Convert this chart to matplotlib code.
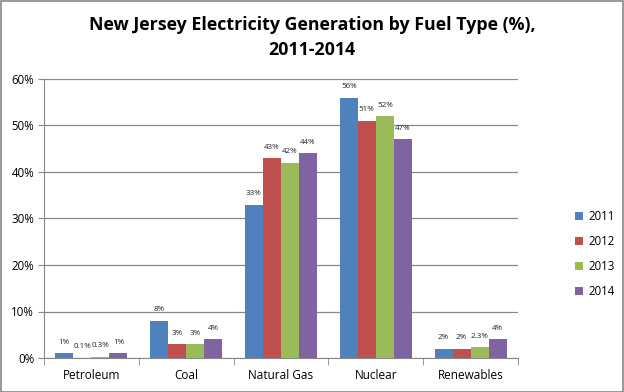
import numpy as np
import matplotlib.pyplot as plt
from matplotlib.patches import Rectangle

# data
fuels = ['Petroleum', 'Coal', 'Natural Gas', 'Nuclear', 'Renewables']
years = ['2011', '2012', '2013', '2014']
v2011 = [1, 8, 33, 56, 2]
v2012 = [0.1, 3, 43, 51, 2]
v2013 = [0.3, 3, 42, 52, 2.3]
v2014 = [1, 4, 44, 47, 4]
labels2011 = ['1%', '8%', '33%', '56%', '2%']
labels2012 = ['0.1%', '3%', '43%', '51%', '2%']
labels2013 = ['0.3%', '3%', '42%', '52%', '2.3%']
labels2014 = ['1%', '4%', '44%', '47%', '4%']

series = [v2011, v2012, v2013, v2014]
series_labels = [labels2011, labels2012, labels2013, labels2014]
colors = ['#4F81BD', '#C0504D', '#9BBB59', '#8064A2']

plt.rcParams['font.family'] = ['Open Sans', 'DejaVu Sans']

fig = plt.figure(figsize=(6.24, 3.92), dpi=100)
ax = fig.add_axes([44 / 624, 34 / 392, 474 / 624, 279 / 392])

x = np.arange(len(fuels))
w = 0.19
for i, (vals, labs) in enumerate(zip(series, series_labels)):
    pos = x + (i - 1.5) * w
    bars = ax.bar(pos, vals, width=w, color=colors[i], label=years[i], zorder=3)
    for b, lab in zip(bars, labs):
        ax.text(b.get_x() + b.get_width() / 2, b.get_height() + 1.6, lab,
                ha='center', va='bottom', fontsize=5.8, color='#222222')

ax.set_xlim(-0.5, len(fuels) - 0.5)
ax.set_ylim(0, 60)
ax.set_yticks(np.arange(0, 61, 10))
ax.set_yticklabels([f'{t}%' for t in range(0, 61, 10)], fontsize=8.3)
ax.yaxis.grid(True, color='#888888', linewidth=0.9, zorder=0)

ax.set_xticks(x)
ax.set_xticklabels(fuels, fontsize=8.5)
ax.tick_params(axis='x', length=0, pad=8)
ax.set_xticks(np.arange(-0.5, len(fuels), 1), minor=True)
ax.tick_params(axis='x', which='minor', length=5, color='#888888')
ax.tick_params(axis='y', length=4, color='#888888', pad=3)

for s in ['top', 'right']:
    ax.spines[s].set_visible(False)
for s in ['left', 'bottom']:
    ax.spines[s].set_color('#888888')

fig.suptitle('New Jersey Electricity Generation by Fuel Type (%),\n2011-2014',
             fontsize=12.8, fontweight='bold', y=0.958, linespacing=1.5)

leg = fig.legend(loc='center left', bbox_to_anchor=(565 / 624, 1 - 254 / 392),
                 frameon=False, fontsize=8.3, handlelength=0.7, handleheight=0.7,
                 handletextpad=0.4, labelspacing=1.05)

fig.patches.append(Rectangle((0.001, 0.001), 0.997, 0.997, transform=fig.transFigure,
                             fill=False, edgecolor='#888888', linewidth=1.2))

fig.savefig('out.png', dpi=100)
